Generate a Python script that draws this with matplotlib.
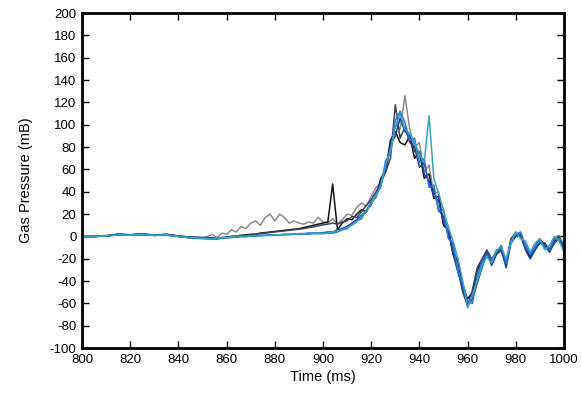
import matplotlib.pyplot as plt

plt.rcParams['font.family'] = ['Liberation Sans', 'DejaVu Sans']
plt.rcParams['axes.unicode_minus'] = False

time_ms = [800, 805, 810, 815, 820, 825, 830, 835, 840, 845,
           850, 852, 854, 856, 858, 860, 862, 864, 866, 868,
           870, 872, 874, 876, 878, 880, 882, 884, 886, 888,
           890, 892, 894, 896, 898, 900, 902, 904, 906, 908,
           910, 912, 914, 916, 918, 920, 922, 924, 926, 928,
           930, 932, 934, 936, 938, 940, 942, 944, 946, 948,
           950, 952, 954, 956, 958, 960, 962, 964, 966, 968,
           970, 972, 974, 976, 978, 980, 982, 984, 986, 988,
           990, 992, 994, 996, 998, 1000]

p_gray = [0, 0, 1, 2, 1, 2, 1.5, 2, 0, -1,
          -1, 0, 2, -1, 3, 2, 6, 4, 9, 7,
          12, 14, 10, 17, 20, 14, 20, 17, 12, 14,
          12, 11, 13, 12, 17, 13, 12, 16, 11, 15,
          20, 19, 26, 30, 27, 36, 44, 47, 62, 80,
          100, 96, 126, 96, 80, 84, 58, 64, 38, 40,
          12, 10, -16, -20, -48, -60, -52, -34, -24, -16,
          -22, -12, -14, -22, -2, 4, 1, -6, -17, -8,
          -3, -10, -10, -1, 1, -10]

p_black = [0, 0, 0.5, 2, 1.5, 2.5, 1, 2, 0.5, -0.5,
           -1, -1.5, -1, -2, -1, -1, 0, 0, 1, 1.5,
           2, 2, 3, 3.5, 4, 4.5, 5, 5.5, 6, 6.5,
           7, 8, 9, 10, 11, 12, 13, 47, 6, 12,
           16, 15, 20, 24, 22, 30, 36, 52, 60, 86,
           94, 84, 82, 90, 70, 76, 52, 56, 34, 36,
           10, 6, -16, -22, -44, -56, -50, -30, -22, -14,
           -24, -15, -12, -24, -4, 0, 2, -9, -19, -12,
           -4, -6, -12, -4, -2, -8]

p_slate = [0, 0, 0.5, 1.5, 1.5, 2, 1, 1.5, 0.5, -1,
           -1, -1, -1.5, -2, -1, -0.5, 0, 0.5, 1, 1,
           1.5, 2, 2.5, 3, 3.5, 4, 4.5, 5, 5.5, 6,
           6.5, 7, 8, 8.5, 9.5, 10.5, 11, 12, 11, 13,
           14, 18, 17, 22, 28, 33, 40, 48, 58, 70,
           118, 88, 98, 84, 80, 62, 66, 46, 42, 24,
           18, 0, -8, -30, -50, -62, -48, -28, -20, -12,
           -20, -16, -10, -26, -2, 2, 0, -10, -16, -10,
           -2, -8, -14, -3, 0, -12]

p_navy = [0, 0, 0.5, 2, 1.5, 1.5, 1, 1.5, 0, -1,
          -1.5, -2, -2, -2, -1.5, -1, -0.5, -0.5, 0, 0,
          0.5, 0.5, 1, 1, 1.5, 1.5, 1.5, 2, 2, 2,
          2.5, 2.5, 3, 3, 3, 3.5, 4, 4, 6, 7,
          9, 12, 15, 19, 23, 31, 35, 50, 58, 82,
          90, 106, 94, 90, 76, 76, 56, 50, 36, 32,
          12, 6, -16, -32, -46, -62, -56, -42, -28, -14,
          -26, -16, -12, -28, -6, 0, 2, -12, -20, -12,
          -6, -6, -14, -6, -2, -10]

p_blue = [0, 0, 0.5, 1.5, 1.5, 2, 1, 1, 0, -1.5,
          -2, -2, -2.5, -2, -1.5, -1, -1, -0.5, 0, 0,
          0, 0.5, 0.5, 1, 1, 1, 1.5, 1.5, 1.5, 2,
          2, 2, 2, 2.5, 2.5, 2.5, 3, 3, 4, 6,
          7, 11, 14, 16, 24, 28, 38, 44, 68, 74,
          104, 112, 102, 86, 88, 66, 70, 44, 46, 22,
          24, -2, -6, -32, -42, -58, -60, -36, -22, -16,
          -20, -14, -8, -24, -4, 2, 4, -8, -16, -10,
          -4, -10, -12, -2, -2, -6]

p_teal = [0, 0, 0.5, 1.5, 1, 2, 1, 1.5, 0, -1,
          -1.5, -2, -2, -1.5, -1, -1, -0.5, 0, 0, 0,
          0.5, 0.5, 1, 1, 1, 1.5, 1.5, 2, 2, 2,
          2.5, 2.5, 2.5, 3, 3, 3, 3, 4, 5, 6,
          8, 10, 13, 18, 22, 30, 36, 46, 64, 78,
          98, 110, 96, 92, 84, 74, 66, 108, 52, 38,
          24, 8, -4, -20, -40, -64, -52, -40, -26, -18,
          -24, -12, -10, -20, -6, 4, -2, -4, -14, -6,
          -2, -12, -8, 0, -4, -14]

series = [
    (p_gray, '#8a8a8a'),
    (p_black, '#141414'),
    (p_slate, '#3c4656'),
    (p_navy, '#1c3f9c'),
    (p_blue, '#2b72dc'),
    (p_teal, '#35a3bf'),
]

fig = plt.figure(figsize=(5.82, 3.97), dpi=100)
ax = fig.add_axes([0.141, 0.123, 0.828, 0.844])

for values, color in series:
    ax.plot(time_ms, values, color=color, lw=1.1)

ax.set_xlim(800, 1000)
ax.set_ylim(-100, 200)
ax.set_xticks(range(800, 1001, 20))
ax.set_yticks(range(-100, 201, 20))

for side in ax.spines.values():
    side.set_linewidth(2)
ax.tick_params(direction='in', length=5, width=1, top=True, right=True,
               labelsize=9.5, pad=4)

ax.set_xlabel('Time (ms)', fontsize=10.5, labelpad=3)
ax.set_ylabel('Gas Pressure (mB)', fontsize=10.5, labelpad=12)

fig.savefig('out.png', dpi=100)
